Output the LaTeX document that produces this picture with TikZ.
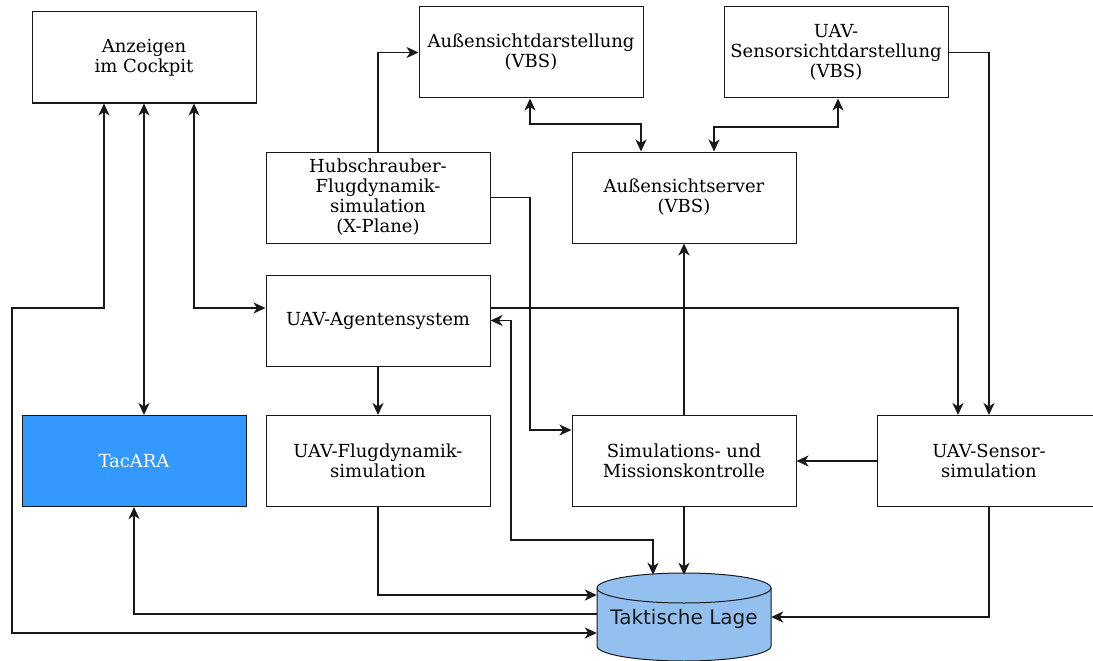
\documentclass[tikz,border=0pt]{standalone}
\usepackage{fontspec}
\setmainfont{DejaVu Serif}
\newfontfamily\lagefont{DejaVu Sans}
\usetikzlibrary{arrows.meta}
\definecolor{tacblue}{RGB}{51,153,255}
\definecolor{lageblue}{RGB}{148,192,240}
\definecolor{edge}{RGB}{25,25,25}
\tikzset{
  box/.style={draw=edge, line width=1pt, fill=white, minimum width=224pt,
    minimum height=91pt, align=center, inner sep=2pt,
    font=\fontsize{18}{20}\selectfont},
  tacbox/.style={box, fill=tacblue, text=white},
  lagebox/.style={minimum width=174pt, minimum height=88pt, inner sep=0pt,
    font=\lagefont\fontsize{20}{24}\selectfont, text=black!90},
  tip/.tip={Stealth[length=12pt,width=11pt,inset=3.5pt]},
  arr/.style={line width=1.7pt, draw=black!90, -tip},
  biarr/.style={arr, tip-tip},
}
\begin{document}
\begin{tikzpicture}[x=1pt, y=-1pt]
\useasboundingbox (0,0) rectangle (1093,661);
\clip (0,0) rectangle (1093,661);

% boxes
\node[box] (anz)    at (144,57.5)  {Anzeigen\\im Cockpit};
\node[box] (aus)    at (531,52.5)  {Außensichtdarstellung\\(VBS)};
\node[box] (uavsd)  at (836,52.5)  {UAV-\\Sensorsichtdarstellung\\(VBS)};
\node[box] (hub)    at (378,197.5) {Hubschrauber-\\Flugdynamik-\\simulation\\(X-Plane)};
\node[box] (server) at (684,197.5) {Außensichtserver\\(VBS)};
\node[box] (agent)  at (378,320.5) {UAV-Agentensystem};
\node[tacbox] (tac) at (134,461)   {TacARA};
\node[box] (flug)   at (378,461)   {UAV-Flugdynamik-\\simulation};
\node[box] (sim)    at (684,461)   {Simulations- und\\Missionskontrolle};
\node[box] (sens)   at (989,461)   {UAV-Sensor-\\simulation};

% database cylinder
\draw[draw=edge, line width=1pt, fill=lageblue]
  (597,588) -- (597,646) arc (180:360:87pt and 15pt) -- (771,588)
  arc (0:180:87pt and 15pt) -- cycle;
\draw[draw=edge, line width=1pt] (597,588) arc (180:360:87pt and 15pt);
\node[lagebox] (lage) at (684,619) {Taktische Lage};

% connectors
\draw[biarr] ([xshift=-40pt]anz.south) |- (12,308) |- ([yshift=-14pt]lage.west);
\draw[biarr] (anz.south) -- (anz.south |- tac.north);
\draw[biarr] ([xshift=50pt]anz.south) |- ([yshift=12.5pt]agent.west);
\draw[arr] ([yshift=5pt]lage.west) -| (tac.south);
\draw[arr] (hub.north) |- (aus.west);
\draw[arr] (hub.east) -- (530,197.5) |- ([yshift=31pt]sim.west);
\draw[biarr] ([xshift=-1pt]aus.south) |- (641,124) -- ([xshift=-43pt]server.north);
\draw[biarr] ([xshift=2pt]uavsd.south) |- (714,127) -- ([xshift=30pt]server.north);
\draw[arr] (uavsd.east) -| (sens.north);
\draw[arr] ([yshift=12.5pt]agent.east) -| ([xshift=-31pt]sens.north);
\draw[arr] (agent.south) -- (flug.north);
\draw[biarr] ([xshift=-31pt]lage.north) |- (511,540) |- (agent.east);
\draw[arr] (sim.south) -- (lage.north);
\draw[arr] (sim.north) -- (server.south);
\draw[arr] (sens.west) -- (sim.east);
\draw[arr] (sens.south) |- ([yshift=2pt]lage.east);
\draw[arr] (flug.south) |- ([yshift=24pt]lage.west);
\end{tikzpicture}
\end{document}
